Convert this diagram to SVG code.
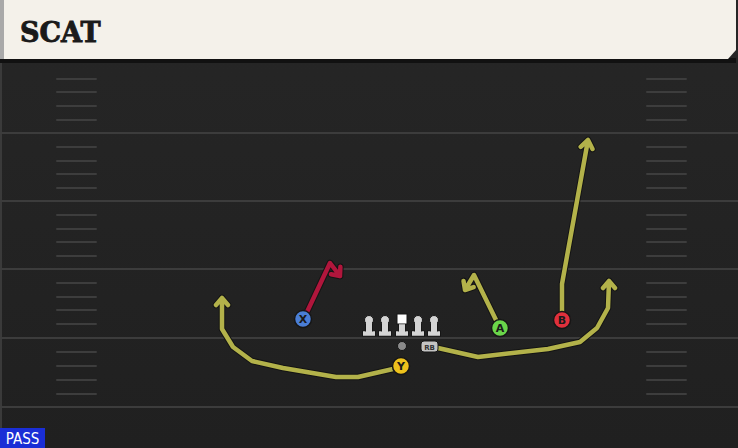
<svg xmlns="http://www.w3.org/2000/svg" width="738" height="448" viewBox="0 0 738 448">
<style>
.yard{stroke:#3c3c3c;stroke-width:2}
.hash{stroke:#3d3d3d;stroke-width:2;stroke-linecap:round}
.under{fill:none;stroke:#141414;stroke-width:6.5;stroke-linejoin:round;stroke-linecap:round}
.route{fill:none;stroke:#b3b24a;stroke-width:4.5;stroke-linejoin:round;stroke-linecap:round}
.red{stroke:#b0163c}
.lbl{font-family:"DejaVu Sans","Liberation Sans",sans-serif;font-size:11px;font-weight:bold;fill:#1a1a1a;text-anchor:middle}
.ol{fill:#d4d4d4;stroke:#161616;stroke-width:1}
</style>
<defs>
<linearGradient id="bg" x1="0" y1="0" x2="0" y2="1">
<stop offset="0" stop-color="#262626"/>
<stop offset="1" stop-color="#202020"/>
</linearGradient>
<g id="lineman">
<rect x="-6.5" y="11" width="13" height="5" class="ol"/>
<rect x="-3.5" y="0" width="7" height="12" class="ol"/>
<circle cx="0" cy="0" r="4.5" class="ol" fill="#bdbdbd"/>
<rect x="-6" y="11.5" width="12" height="4" fill="#d4d4d4"/>
<rect x="-3" y="1" width="6" height="11" fill="#d4d4d4"/>
</g>
</defs>
<rect width="738" height="448" fill="url(#bg)"/>
<rect x="0" y="60" width="2" height="388" fill="#3a3a3a"/>
<g id="field">
<line class="yard" x1="0" y1="133" x2="738" y2="133"/>
<line class="yard" x1="0" y1="201" x2="738" y2="201"/>
<line class="yard" x1="0" y1="269" x2="738" y2="269"/>
<line class="yard" x1="0" y1="338" x2="738" y2="338"/>
<line class="yard" x1="0" y1="407" x2="738" y2="407"/>
<path class="hash" d="M57 79H96M57 92H96M57 106H96M57 120H96M57 147H96M57 161H96M57 174H96M57 188H96M57 215H96M57 229H96M57 242H96M57 256H96M57 283H96M57 297H96M57 310H96M57 324H96M57 352H96M57 366H96M57 380H96M57 394H96"/>
<path class="hash" d="M647 79H686M647 92H686M647 106H686M647 120H686M647 147H686M647 161H686M647 174H686M647 188H686M647 215H686M647 229H686M647 242H686M647 256H686M647 283H686M647 297H686M647 310H686M647 324H686M647 352H686M647 366H686M647 380H686M647 394H686"/>
</g>
<g id="header">
<rect x="0" y="58" width="736" height="5" fill="#111111"/>
<path d="M0 0H736V50L728 59H0Z" fill="#f4f1ea"/>
<rect x="0" y="0" width="4" height="59" fill="#a9a9a9"/>
<text x="20" y="42" font-family="'DejaVu Serif','Liberation Serif',serif" font-weight="bold" font-size="27" fill="#1a1a1a" stroke="#1a1a1a" stroke-width="0.9" letter-spacing="0">SCAT</text>
</g>
<g id="connectors">
<path class="under" d="M307 312L330 263L340 276M331 274.2L340 276L340.4 266.8"/>
<path class="route red" d="M307 312L330 263L340 276M331 274.2L340 276L340.4 266.8"/>
<path class="under" d="M393 369L358 377L336 377L283 368L252 361L233 347L222 329L222 298M216 305L222 298L228 305"/>
<path class="route" d="M393 369L358 377L336 377L283 368L252 361L233 347L222 329L222 298M216 305L222 298L228 305"/>
<path class="under" d="M496 320L474 275L465 290M463.5 280.9L465 290L473.7 287.1"/>
<path class="route" d="M496 320L474 275L465 290M463.5 280.9L465 290L473.7 287.1"/>
<path class="under" d="M562 312L562 284L588 140M580.7 146.8L588 140L592.5 149"/>
<path class="route" d="M562 312L562 284L588 140M580.7 146.8L588 140L592.5 149"/>
<path class="under" d="M438 348L478 357L548 349L580 342L597 328L608 308L609 281M603 288L609 281L615 288"/>
<path class="route" d="M438 348L478 357L548 349L580 342L597 328L608 308L609 281M603 288L609 281L615 288"/>
</g>
<g id="oline">
<use href="#lineman" x="369" y="320"/>
<use href="#lineman" x="385" y="320"/>
<use href="#lineman" x="418" y="320"/>
<use href="#lineman" x="434" y="320"/>
<g id="center">
<rect x="395.5" y="331" width="13" height="5" class="ol"/>
<rect x="398.5" y="320" width="7" height="12" class="ol"/>
<rect x="397" y="314" width="10" height="10" fill="#ffffff" stroke="#161616" stroke-width="1"/>
<rect x="396" y="331.5" width="12" height="4" fill="#d4d4d4"/>
<rect x="399" y="324.5" width="6" height="8" fill="#d4d4d4"/>
</g>
</g>
<g id="qb"><circle cx="402" cy="346" r="4.5" fill="#8a8a8a" stroke="#161616" stroke-width="1"/></g>
<g id="rb">
<rect x="421" y="341" width="17" height="11" rx="3" fill="#c4c4c4" stroke="#161616" stroke-width="1"/>
<text x="429.5" y="349.5" font-family="'DejaVu Sans',sans-serif" font-size="7" font-weight="bold" fill="#333" text-anchor="middle">RB</text>
</g>
<g id="X"><circle cx="303" cy="319" r="8.5" fill="#4a7ed6" stroke="#161616" stroke-width="1.5"/><text class="lbl" x="303" y="323">X</text></g>
<g id="Y"><circle cx="401" cy="366" r="8.5" fill="#eec21c" stroke="#161616" stroke-width="1.5"/><text class="lbl" x="401" y="370">Y</text></g>
<g id="A"><circle cx="500" cy="328" r="8.5" fill="#6ad64a" stroke="#161616" stroke-width="1.5"/><text class="lbl" x="500" y="332">A</text></g>
<g id="B"><circle cx="562" cy="320" r="8.5" fill="#e0303c" stroke="#161616" stroke-width="1.5"/><text class="lbl" x="562" y="324">B</text></g>
<g id="pass">
<rect x="0" y="428" width="45" height="20" fill="#1a2ed6"/>
<text x="22.5" y="444" font-family="'DejaVu Sans Condensed','DejaVu Sans',sans-serif" font-size="15" fill="#ffffff" text-anchor="middle">PASS</text>
</g>
</svg>
